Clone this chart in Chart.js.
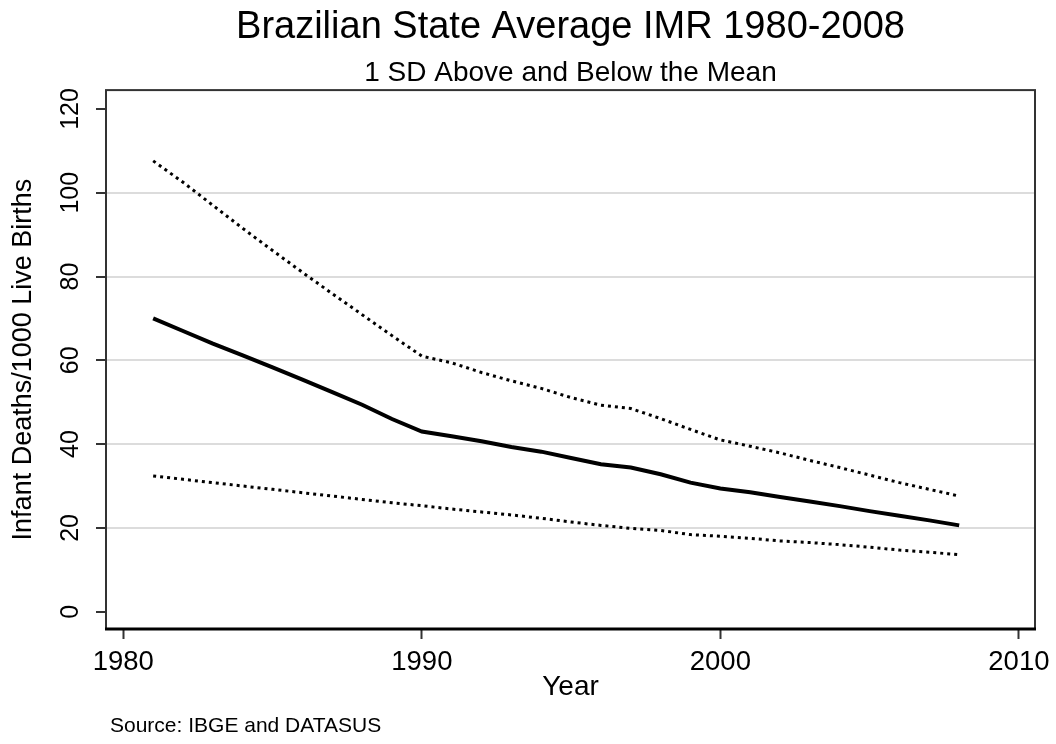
<!DOCTYPE html>
<html>
<head>
<meta charset="utf-8">
<script src="https://cdn.jsdelivr.net/npm/chart.js@4"></script>
<style>
  body { margin: 0; background: #fff; }
</style>
</head>
<body>
<canvas id="imrChart" width="1056" height="744"></canvas>
<script>
"use strict";

// values
var years = [1981, 1982, 1983, 1984, 1985, 1986, 1987, 1988, 1989, 1990,
  1991, 1992, 1993, 1994, 1995, 1996, 1997, 1998, 1999, 2000,
  2001, 2002, 2003, 2004, 2005, 2006, 2007, 2008];

var meanImr = [70, 67, 64, 61.2, 58.3, 55.4, 52.4, 49.4, 46, 43,
  41.9, 40.7, 39.3, 38.2, 36.7, 35.2, 34.4, 32.8, 30.8, 29.4,
  28.5, 27.4, 26.3, 25.2, 24, 22.9, 21.8, 20.6];

var upperImr = [107.6, 102.5, 97, 91.5, 86.2, 81, 75.9, 70.9, 65.9, 61,
  59.4, 57.1, 55.1, 53.3, 51.1, 49.3, 48.5, 46.1, 43.5, 41,
  39.5, 37.9, 36.1, 34.4, 32.6, 30.8, 29.2, 27.6];

var lowerImr = [32.4, 31.6, 30.8, 30, 29.2, 28.4, 27.6, 26.8, 26, 25.3,
  24.5, 23.8, 23.1, 22.3, 21.4, 20.6, 19.9, 19.4, 18.4, 18,
  17.5, 16.9, 16.5, 16, 15.4, 14.7, 14.2, 13.6];

var xTicks = [1980, 1990, 2000, 2010];
var yTicks = [0, 20, 40, 60, 80, 100, 120];

var font = "'Liberation Sans', Arial, sans-serif";

function points(vals) {
  return years.map((yr, i) => ({ x: yr, y: vals[i] }));
}

// plot region frame and source note
var framePlugin = {
  id: 'frame',
  afterDraw(chart) {
    let ctx = chart.ctx;
    let a = chart.chartArea;
    ctx.save();
    ctx.strokeStyle = '#333';
    ctx.lineWidth = 2;
    ctx.strokeRect(a.left, a.top, a.right - a.left, a.bottom - a.top);
    ctx.strokeStyle = '#000';
    ctx.lineWidth = 3;
    ctx.beginPath();
    ctx.moveTo(a.left - 1, a.bottom);
    ctx.lineTo(a.right + 1, a.bottom);
    ctx.stroke();
    ctx.fillStyle = '#000';
    ctx.font = "21px " + font;
    ctx.textBaseline = 'middle';
    ctx.textAlign = 'left';
    ctx.fillText('Source: IBGE and DATASUS', 110, 726);
    ctx.restore();
  }
};

var ctx = document.getElementById("imrChart").getContext('2d');
var myChart = new Chart(ctx, {
  type: 'line',
  data: {
    datasets: [{
      label: 'Mean',
      data: points(meanImr),
      borderColor: '#000',
      borderWidth: 4,
      pointRadius: 0,
      tension: 0,
    }, {
      label: '+1 SD',
      data: points(upperImr),
      borderColor: '#000',
      borderWidth: 3,
      borderDash: [3, 4],
      pointRadius: 0,
      tension: 0,
    }, {
      label: '-1 SD',
      data: points(lowerImr),
      borderColor: '#000',
      borderWidth: 3,
      borderDash: [3, 4],
      pointRadius: 0,
      tension: 0,
    }]
  },
  options: {
    responsive: false,
    animation: false,
    layout: {
      padding: { left: 0, right: 21, top: 0, bottom: 39 }
    },
    plugins: {
      legend: { display: false },
      tooltip: { enabled: false },
      title: {
        display: true,
        fullSize: false,
        text: 'Brazilian State Average IMR 1980-2008',
        color: '#000',
        font: { family: font, size: 38, weight: 'normal' },
        padding: { top: 5, bottom: 3 },
      },
      subtitle: {
        display: true,
        fullSize: false,
        text: '1 SD Above and Below the Mean',
        color: '#000',
        font: { family: font, size: 28, weight: 'normal' },
        padding: { top: 2.5, bottom: 0.4 },
      },
    },
    scales: {
      x: {
        type: 'linear',
        min: 1979.42,
        max: 2010.54,
        afterBuildTicks: (scale) => { scale.ticks = xTicks.map((v) => ({ value: v })); },
        afterFit: (scale) => {
          scale.height = 76;
          scale.paddingLeft = 0;
          scale.paddingRight = 0;
        },
        border: { display: false },
        grid: {
          drawOnChartArea: false,
          tickLength: 10,
          tickColor: '#333',
          tickWidth: 2,
        },
        ticks: {
          color: '#000',
          padding: 7,
          maxRotation: 0,
          font: { family: font, size: 27.5 },
          callback: (v) => String(v),
        },
        title: {
          display: true,
          text: 'Year',
          color: '#000',
          font: { family: font, size: 28 },
          padding: { top: 0, bottom: 1 },
        },
      },
      y: {
        min: -4.13,
        max: 124.5,
        afterBuildTicks: (scale) => { scale.ticks = yTicks.map((v) => ({ value: v })); },
        afterFit: (scale) => {
          scale.width = 106;
          scale.paddingTop = 0;
          scale.paddingBottom = 0;
        },
        border: { display: false },
        grid: {
          color: (c) => (c.tick && (c.tick.value === 0 || c.tick.value === 120)) ? 'rgba(0,0,0,0)' : '#dcdcdc',
          lineWidth: 2,
          tickLength: 10,
          tickColor: '#333',
          tickWidth: 2,
        },
        ticks: {
          color: '#000',
          padding: 4,
          minRotation: 90,
          maxRotation: 90,
          crossAlign: 'center',
          font: { family: font, size: 25 },
          callback: (v) => String(v),
        },
        title: {
          display: true,
          text: 'Infant Deaths/1000 Live Births',
          color: '#000',
          font: { family: font, size: 27 },
          padding: { top: 7, bottom: 0 },
        },
      },
    },
  },
  plugins: [framePlugin],
});
</script>
</body>
</html>
